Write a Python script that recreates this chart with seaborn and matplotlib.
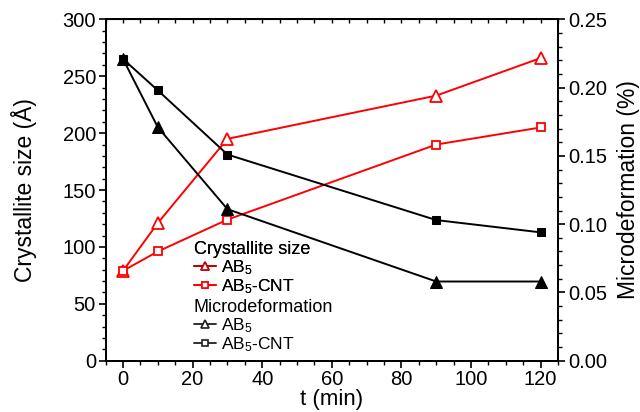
import pandas as pd
import seaborn as sns
import matplotlib.pyplot as plt
from matplotlib.lines import Line2D
from matplotlib.ticker import MultipleLocator

# values
t_min = [0, 10, 30, 90, 120]
size_ab5 = [79, 121, 195, 233, 266]
size_ab5_cnt = [79, 96, 124, 190, 205]
deform_ab5 = [0.221, 0.171, 0.111, 0.058, 0.058]
deform_ab5_cnt = [0.221, 0.198, 0.151, 0.103, 0.094]

sns.set_style("ticks")
plt.rcParams['font.family'] = ['Liberation Sans', 'DejaVu Sans']
plt.rcParams['mathtext.fontset'] = 'custom'
plt.rcParams['mathtext.rm'] = 'Liberation Sans'
plt.rcParams['mathtext.it'] = 'Liberation Sans'
for k in ('text.color', 'axes.labelcolor', 'axes.edgecolor', 'xtick.color', 'ytick.color'):
    plt.rcParams[k] = 'black'

df = pd.DataFrame({'t': t_min, 'size_ab5': size_ab5, 'size_cnt': size_ab5_cnt,
                   'def_ab5': deform_ab5, 'def_cnt': deform_ab5_cnt})

fig = plt.figure(figsize=(6.4, 4.12), dpi=100)
ax = fig.add_axes([0.165, 0.1245, 0.707, 0.8285])
ax2 = ax.twinx()

# crystallite size (left axis) - open red markers
sns.lineplot(data=df, x='t', y='size_ab5', ax=ax, color='red', lw=1.4, marker='^',
             markersize=8, markerfacecolor='white', markeredgecolor='red', markeredgewidth=1.3)
sns.lineplot(data=df, x='t', y='size_cnt', ax=ax, color='red', lw=1.4, marker='s',
             markersize=6, markerfacecolor='white', markeredgecolor='red', markeredgewidth=1.3)

# microdeformation (right axis) - filled black markers
sns.lineplot(data=df, x='t', y='def_cnt', ax=ax2, color='black', lw=1.4, marker='s',
             markersize=6, markerfacecolor='black', markeredgecolor='black')
sns.lineplot(data=df, x='t', y='def_ab5', ax=ax2, color='black', lw=1.4, marker='^',
             markersize=8, markerfacecolor='black', markeredgecolor='black')

ax.set_xlim(-5, 125)
ax.set_ylim(0, 300)
ax2.set_ylim(0, 0.25)

ax.xaxis.set_major_locator(MultipleLocator(20))
ax.xaxis.set_minor_locator(MultipleLocator(5))
ax.yaxis.set_major_locator(MultipleLocator(50))
ax.yaxis.set_minor_locator(MultipleLocator(10))
ax2.yaxis.set_major_locator(MultipleLocator(0.05))
ax2.yaxis.set_minor_locator(MultipleLocator(0.01))
ax2.yaxis.set_major_formatter(plt.FormatStrFormatter('%.2f'))

for a in (ax, ax2):
    a.tick_params(which='major', direction='out', length=5, width=1.2, labelsize=14.5, pad=2,
                  colors='black')
    a.tick_params(which='minor', direction='out', length=3, width=1.0, colors='black')
    for s in a.spines.values():
        s.set_linewidth(1.4)
        s.set_color('black')
        s.set_visible(True)

top = ax.secondary_xaxis('top')
top.xaxis.set_major_locator(MultipleLocator(5))
top.tick_params(direction='in', length=3, width=1.0, labeltop=False, colors='black')

ax.set_xlabel('t (min)', fontsize=16, labelpad=0)
ax.set_ylabel('Crystallite size (Å)', fontsize=16.5, labelpad=18)
ax2.set_ylabel('Microdeformation (%)', fontsize=16.5, labelpad=7)

def handle(color, marker, size):
    return Line2D([], [], color=color, lw=1.3, marker=marker, markersize=size,
                  markerfacecolor='white', markeredgecolor=color, markeredgewidth=1.2)

leg_kw = dict(frameon=False, fontsize=12.5, title_fontsize=13, alignment='left',
              handlelength=1.3, handletextpad=0.25, labelspacing=0.0,
              borderpad=0, borderaxespad=0, loc='upper left', labelcolor='black')
leg1 = ax.legend([handle('#c00000', '^', 6), handle('red', 's', 5)],
                 ['AB$_5$', 'AB$_5$-CNT'], title='Crystallite size',
                 bbox_to_anchor=(0.195, 0.35), **leg_kw)
ax.add_artist(leg1)
leg2 = ax2.legend([handle('#202020', '^', 6), handle('#202020', 's', 5)],
                  ['AB$_5$', 'AB$_5$-CNT'], title='Microdeformation',
                  bbox_to_anchor=(0.195, 0.18), **leg_kw)
for lg in (leg1, leg2):
    lg.get_title().set_color('black')

plt.savefig('out.png', dpi=100)
